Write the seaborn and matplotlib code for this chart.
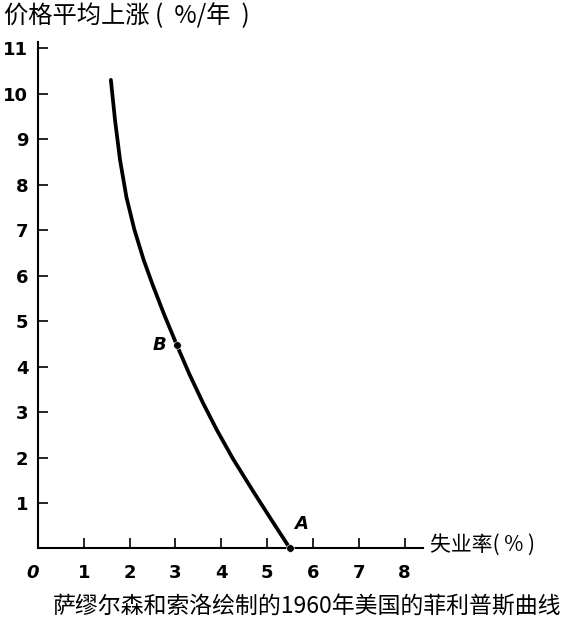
import numpy as np
import pandas as pd
import seaborn as sns
from matplotlib import pyplot as plt

# unemployment (%) vs. price increase (%/year)
unemployment = [1.59, 1.68, 1.79, 1.93, 2.10, 2.30, 2.50, 2.75, 3.03, 3.30, 3.60, 3.90, 4.25, 4.70, 5.10, 5.50]
inflation = [10.30, 9.42, 8.54, 7.72, 7.02, 6.36, 5.80, 5.15, 4.47, 3.84, 3.20, 2.61, 1.98, 1.25, 0.62, 0.0]

point_names = ['A', 'B']
point_x = [5.5, 3.03]
point_y = [0.0, 4.47]

x_ticks = [1, 2, 3, 4, 5, 6, 7, 8]
y_ticks = [1, 2, 3, 4, 5, 6, 7, 8, 9, 10, 11]


def main():
    sns.set_theme(style='white')
    plt.rcParams['font.family'] = ['Noto Sans CJK SC', 'DejaVu Sans']

    curve = pd.DataFrame({'u': unemployment, 'p': inflation})
    pts = pd.DataFrame({'name': point_names, 'u': point_x, 'p': point_y})

    fig = plt.figure(figsize=(5.77, 6.29), dpi=100)
    ax = fig.add_axes([0.0659, 0.128, 0.667, 0.805])

    sns.lineplot(data=curve, x='u', y='p', ax=ax, color='black', linewidth=2.7, sort=False, clip_on=False)
    sns.scatterplot(data=pts, x='u', y='p', ax=ax, color='black', s=30, zorder=5, clip_on=False)

    ax.text(3.03 - 0.22, 4.47, 'B', ha='right', va='center', fontsize=13, fontweight='bold',
            fontstyle='italic', family='DejaVu Sans', color='black')
    ax.text(5.5 + 0.08, 0.35, 'A', ha='left', va='bottom', fontsize=13, fontweight='bold',
            fontstyle='italic', family='DejaVu Sans', color='black')

    ax.set_xlim(0, 8.4)
    ax.set_ylim(0, 11.13)
    ax.set_xticks(x_ticks)
    ax.set_yticks(y_ticks)
    ax.set_xticklabels([str(t) for t in x_ticks], fontsize=13, fontweight='bold', family='DejaVu Sans')
    ax.set_yticklabels([str(t) for t in y_ticks], fontsize=13, fontweight='bold', family='DejaVu Sans')
    ax.tick_params(axis='x', direction='in', length=7, width=1.2, pad=11, colors='black')
    ax.tick_params(axis='y', direction='in', length=7, width=1.2, pad=7, colors='black')
    ax.tick_params(bottom=True, left=True)

    # origin label sits a bit left of the y axis
    ax.annotate('0', xy=(0, 0), xycoords=('data', 'axes fraction'), xytext=(-4, -11),
                textcoords='offset points', ha='center', va='top', fontsize=13,
                fontweight='bold', fontstyle='italic', family='DejaVu Sans', color='black')

    for s in ['top', 'right']:
        ax.spines[s].set_visible(False)
    for s in ['left', 'bottom']:
        ax.spines[s].set_color('black')
        ax.spines[s].set_linewidth(1.5)

    ax.set_xlabel('')
    ax.set_ylabel('')

    fig.text(430 / 577, 1 - 545 / 629, '失业率( % )', ha='left', va='center', fontsize=15, color='black')
    fig.text(4 / 577, 1 - 16 / 629, '价格平均上涨 (  %/年  )', ha='left', va='center', fontsize=17.5,
             color='black')
    fig.text(307 / 577, 1 - 607 / 629, '萨缪尔森和索洛绘制的1960年美国的菲利普斯曲线',
             ha='center', va='center', fontsize=16.5, color='black')

    fig.savefig('out.png', dpi=100, facecolor='white')


if __name__ == '__main__':
    main()
